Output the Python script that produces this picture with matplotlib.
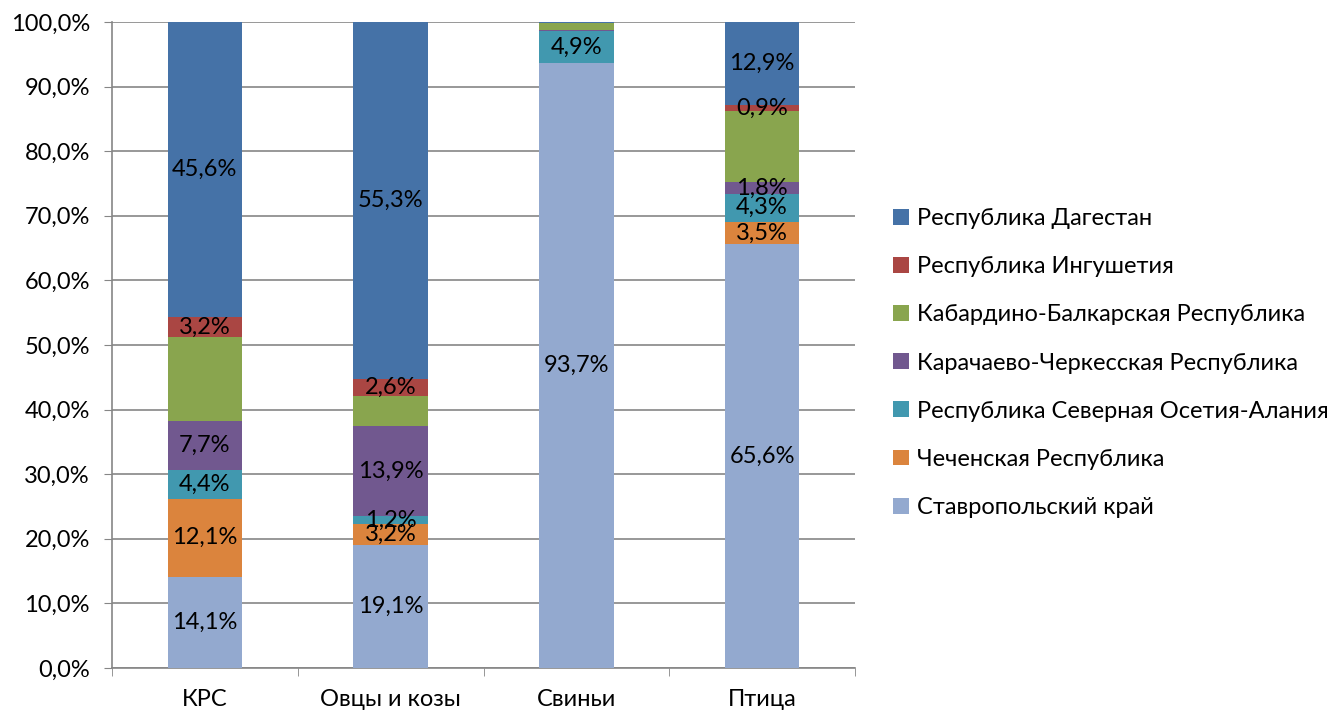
import matplotlib
matplotlib.use("Agg")
import matplotlib.pyplot as plt
import numpy as np

# Данные (в процентах)
kategorii = ["КРС", "Овцы и козы", "Свиньи", "Птица"]
regiony = ["Ставропольский край", "Чеченская Республика",
           "Республика Северная Осетия-Алания", "Карачаево-Черкесская Республика",
           "Кабардино-Балкарская Республика", "Республика Ингушетия",
           "Республика Дагестан"]
stavropol  = [14.1, 19.1, 93.7, 65.6]
chechnya   = [12.1, 3.2, 0.0, 3.5]
osetia     = [4.4, 1.2, 4.9, 4.3]
karachaevo = [7.7, 13.9, 0.2, 1.8]
kabardino  = [12.9, 4.7, 1.1, 11.0]
ingush     = [3.2, 2.6, 0.0, 0.9]
dagestan   = [45.6, 55.3, 0.1, 12.9]
# какие подписи показаны на диаграмме
pokazat = [
    [True, True, True, True],
    [True, True, False, True],
    [True, True, True, True],
    [True, True, False, True],
    [False, False, False, False],
    [True, True, False, True],
    [True, True, False, True],
]
cveta = ["#93A9CF", "#DB843D", "#4198AF", "#71588F", "#89A54E", "#AA4643", "#4572A7"]

plt.rcParams['font.family'] = ['Lato', 'DejaVu Sans']
fs = 17

fig = plt.figure(figsize=(13.35, 7.12), dpi=100)
ax = fig.add_axes([112/1335, 44/712, 743/1335, 646/712])

serii = [stavropol, chechnya, osetia, karachaevo, kabardino, ingush, dagestan]
x = np.arange(len(kategorii))
niz = np.zeros(len(kategorii))
for i, s in enumerate(serii):
    ax.bar(x, s, width=0.4, bottom=niz, color=cveta[i], label=regiony[i], zorder=3)
    for j, v in enumerate(s):
        if pokazat[i][j]:
            ax.text(x[j], niz[j] + v / 2, f"{v:.1f}".replace(".", ",") + "%",
                    ha="center", va="center", fontsize=fs, color="black", zorder=4)
    niz += np.array(s)

ax.set_xlim(-0.5, 3.5)
ax.set_ylim(0, 100)
ax.set_yticks(np.arange(0, 101, 10))
ax.set_yticklabels([f"{v:.1f}".replace(".", ",") + "%" for v in np.arange(0, 101, 10)], fontsize=fs)
ax.set_xticks(x)
ax.set_xticklabels(kategorii, fontsize=fs)
ax.tick_params(axis="x", length=0, pad=15)
ax.tick_params(axis="y", length=6, color="#868686", pad=10)
ax.set_xticks(np.arange(-0.5, 3.6, 1), minor=True)
ax.tick_params(axis="x", which="minor", length=6, color="#868686")
ax.grid(axis="y", color="#868686", linewidth=1.2, zorder=0)
for sp in ["top", "right"]:
    ax.spines[sp].set_visible(False)
ax.spines["left"].set_color("#868686")
ax.spines["bottom"].set_color("#868686")
ax.spines["left"].set_linewidth(1.2)
ax.spines["bottom"].set_linewidth(1.2)

h, l = ax.get_legend_handles_labels()
fig.legend(h[::-1], l[::-1], loc="center left", bbox_to_anchor=(872/1335, 1 - 363/712),
           frameon=False, fontsize=fs, handlelength=0.65, handleheight=0.65,
           labelspacing=1.15, handletextpad=0.35)

fig.savefig("out.png", dpi=100)
